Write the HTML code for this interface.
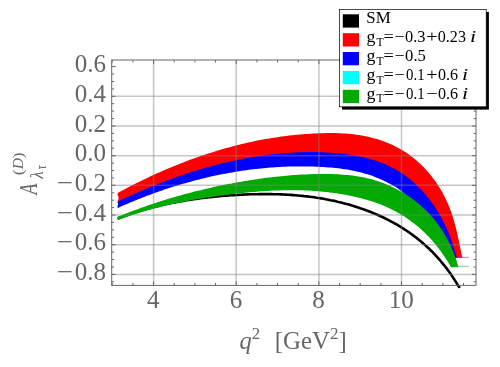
<!DOCTYPE html>
<html><head><meta charset="utf-8"><title>plot</title>
<style>html,body{margin:0;padding:0;background:#fff}svg{display:block;will-change:transform}text{font-family:"Liberation Serif",serif}</style></head><body>
<svg width="500" height="367" viewBox="0 0 500 367">
<rect width="500" height="367" fill="#fff"/>
<clipPath id="c"><rect x="111.7" y="60.0" width="364.3" height="228.39999999999998"/></clipPath>
<g clip-path="url(#c)">
<path d="M117.6,218.4 L119.9,217.8 L122.1,217.0 L124.4,216.1 L126.6,215.3 L128.9,214.5 L131.1,213.7 L133.4,213.0 L135.7,212.2 L137.9,211.5 L140.2,210.8 L142.5,210.1 L144.8,209.5 L147.1,208.8 L149.3,208.2 L151.6,207.6 L153.9,207.0 L156.2,206.4 L158.5,205.9 L160.8,205.3 L163.1,204.8 L165.4,204.3 L167.8,203.8 L170.1,203.3 L172.4,202.8 L174.7,202.4 L177.0,201.9 L179.4,201.5 L181.7,201.1 L184.0,200.7 L186.3,200.3 L188.7,199.9 L191.0,199.6 L193.4,199.2 L195.7,198.9 L198.0,198.6 L200.4,198.3 L202.7,198.0 L205.1,197.7 L207.4,197.4 L209.8,197.2 L212.2,196.9 L214.5,196.7 L216.9,196.5 L219.2,196.2 L221.6,196.0 L224.0,195.8 L226.3,195.7 L228.7,195.5 L231.1,195.3 L233.5,195.2 L235.8,195.0 L238.2,194.9 L240.6,194.7 L243.0,194.6 L245.3,194.5 L247.7,194.4 L250.1,194.3 L252.5,194.3 L254.9,194.2 L257.3,194.2 L259.6,194.1 L262.0,194.1 L264.4,194.1 L266.8,194.1 L269.2,194.1 L271.6,194.1 L273.9,194.2 L276.3,194.2 L278.7,194.3 L281.1,194.4 L283.4,194.5 L285.8,194.6 L288.2,194.8 L290.6,194.9 L292.9,195.1 L295.3,195.3 L297.7,195.5 L300.0,195.7 L302.4,195.9 L304.8,196.2 L307.1,196.4 L309.5,196.7 L311.8,197.0 L314.2,197.3 L316.5,197.7 L318.8,198.0 L321.2,198.4 L323.5,198.8 L325.8,199.3 L328.2,199.7 L330.5,200.2 L332.8,200.6 L335.1,201.1 L337.4,201.7 L339.7,202.2 L342.0,202.8 L344.3,203.4 L346.6,204.0 L348.9,204.6 L351.2,205.3 L353.5,206.0 L355.7,206.7 L358.0,207.4 L360.2,208.2 L362.5,208.9 L364.7,209.7 L366.9,210.6 L369.2,211.4 L371.4,212.3 L373.6,213.2 L375.8,214.1 L377.9,215.0 L380.1,216.0 L382.3,217.0 L384.4,218.0 L386.5,219.1 L388.6,220.2 L390.8,221.3 L392.8,222.4 L394.9,223.5 L397.0,224.7 L399.0,225.9 L401.0,227.1 L403.1,228.4 L405.0,229.7 L407.0,231.0 L409.0,232.3 L410.9,233.7 L412.8,235.1 L414.7,236.5 L416.6,237.9 L418.5,239.4 L420.3,240.9 L422.1,242.5 L423.9,244.0 L425.7,245.6 L427.4,247.2 L429.2,248.8 L430.9,250.5 L432.6,252.2 L434.2,253.9 L435.8,255.6 L437.4,257.4 L439.0,259.2 L440.6,261.0 L442.1,262.8 L443.6,264.6 L445.1,266.5 L446.6,268.4 L448.0,270.3 L449.4,272.2 L450.8,274.1 L452.1,276.1 L453.4,278.1 L454.7,280.1 L456.0,282.1 L457.2,284.1 L458.4,286.1 L459.8,288.0" fill="none" stroke="#000" stroke-width="2.6"/>
<path d="M117.6,193.0 L120.0,191.7 L122.3,190.5 L124.7,189.2 L127.0,187.9 L129.4,186.7 L131.8,185.5 L134.2,184.3 L136.6,183.1 L139.0,181.9 L141.4,180.7 L143.8,179.5 L146.2,178.4 L148.6,177.2 L151.1,176.1 L153.5,175.0 L155.9,173.8 L158.4,172.7 L160.8,171.7 L163.3,170.6 L165.7,169.5 L168.2,168.5 L170.7,167.4 L173.1,166.4 L175.6,165.4 L178.1,164.4 L180.6,163.4 L183.1,162.4 L185.6,161.5 L188.1,160.5 L190.6,159.6 L193.1,158.7 L195.7,157.8 L198.2,156.9 L200.7,156.0 L203.3,155.2 L205.8,154.3 L208.3,153.5 L210.9,152.7 L213.5,151.9 L216.0,151.1 L218.6,150.3 L221.1,149.5 L223.7,148.8 L226.3,148.1 L228.9,147.4 L231.4,146.7 L234.0,146.0 L236.6,145.3 L239.2,144.7 L241.8,144.1 L244.4,143.4 L247.0,142.8 L249.6,142.3 L252.3,141.7 L254.9,141.1 L257.5,140.6 L260.1,140.1 L262.8,139.6 L265.4,139.1 L268.0,138.7 L270.7,138.2 L273.3,137.8 L275.9,137.4 L278.6,137.0 L281.2,136.6 L283.9,136.2 L286.6,135.9 L289.2,135.6 L291.9,135.3 L294.5,135.0 L297.2,134.7 L299.9,134.5 L302.6,134.3 L305.2,134.1 L307.9,133.9 L310.6,133.7 L313.3,133.6 L316.0,133.4 L318.7,133.3 L321.4,133.2 L324.0,133.2 L326.7,133.1 L329.4,133.1 L332.1,133.1 L334.8,133.1 L337.5,133.2 L340.2,133.3 L342.9,133.4 L345.6,133.6 L348.2,133.8 L350.9,134.1 L353.6,134.3 L356.2,134.7 L358.9,135.1 L361.5,135.5 L364.1,135.9 L366.8,136.5 L369.4,137.1 L372.0,137.7 L374.5,138.4 L377.1,139.1 L379.7,139.9 L382.2,140.8 L384.7,141.7 L387.2,142.7 L389.7,143.7 L392.1,144.8 L394.6,146.0 L396.9,147.2 L399.3,148.5 L401.6,149.8 L403.9,151.2 L406.1,152.6 L408.3,154.1 L410.5,155.7 L412.6,157.3 L414.7,159.0 L416.7,160.7 L418.7,162.4 L420.6,164.2 L422.5,166.1 L424.4,168.0 L426.2,170.0 L428.0,171.9 L429.7,174.0 L431.4,176.0 L433.0,178.2 L434.6,180.3 L436.2,182.5 L437.7,184.7 L439.1,187.0 L440.5,189.2 L441.9,191.6 L443.2,193.9 L444.4,196.3 L445.6,198.7 L446.7,201.1 L447.8,203.5 L448.9,206.0 L449.9,208.5 L450.8,211.0 L451.7,213.6 L452.5,216.1 L453.3,218.7 L454.1,221.3 L454.8,223.9 L455.5,226.5 L456.2,229.1 L456.8,231.7 L457.4,234.3 L458.0,236.9 L458.5,239.5 L459.1,242.2 L459.6,244.8 L460.2,247.4 L460.7,250.0 L461.2,252.6 L461.8,255.2 L462.4,257.8 L456.2,258.1 L455.2,255.6 L454.5,253.2 L453.9,250.8 L453.1,248.5 L452.4,246.1 L451.6,243.8 L450.8,241.4 L449.9,239.1 L449.1,236.8 L448.2,234.5 L447.2,232.2 L446.3,229.9 L445.3,227.6 L444.2,225.3 L443.1,223.1 L442.0,220.9 L440.8,218.7 L439.6,216.5 L438.4,214.3 L437.1,212.1 L435.8,210.0 L434.4,207.9 L433.0,205.8 L431.6,203.7 L430.1,201.7 L428.6,199.7 L427.0,197.7 L425.4,195.8 L423.8,193.9 L422.1,192.0 L420.4,190.1 L418.7,188.3 L416.9,186.6 L415.1,184.9 L413.3,183.2 L411.4,181.5 L409.5,180.0 L407.6,178.4 L405.6,176.9 L403.6,175.5 L401.6,174.1 L399.5,172.8 L397.4,171.5 L395.3,170.3 L393.2,169.1 L391.0,168.0 L388.8,166.9 L386.6,165.9 L384.3,164.9 L382.1,164.0 L379.8,163.1 L377.5,162.3 L375.2,161.5 L372.8,160.8 L370.4,160.0 L368.1,159.4 L365.7,158.7 L363.2,158.2 L360.8,157.6 L358.4,157.1 L355.9,156.6 L353.4,156.2 L351.0,155.8 L348.5,155.4 L346.0,155.0 L343.5,154.7 L340.9,154.4 L338.4,154.2 L335.9,154.0 L333.4,153.8 L330.8,153.6 L328.3,153.4 L325.8,153.3 L323.2,153.2 L320.7,153.1 L318.2,153.0 L315.6,153.0 L313.1,153.0 L310.6,153.0 L308.0,153.0 L305.5,153.0 L303.0,153.1 L300.5,153.1 L298.0,153.2 L295.4,153.3 L292.9,153.4 L290.4,153.6 L287.9,153.8 L285.4,153.9 L282.9,154.1 L280.4,154.3 L277.9,154.6 L275.4,154.8 L272.9,155.1 L270.4,155.4 L268.0,155.7 L265.5,156.0 L263.0,156.3 L260.5,156.7 L258.1,157.0 L255.6,157.4 L253.1,157.8 L250.7,158.2 L248.2,158.7 L245.7,159.1 L243.3,159.6 L240.8,160.1 L238.4,160.6 L235.9,161.1 L233.5,161.6 L231.0,162.1 L228.6,162.7 L226.2,163.2 L223.7,163.8 L221.3,164.4 L218.9,165.0 L216.5,165.7 L214.0,166.3 L211.6,166.9 L209.2,167.6 L206.8,168.3 L204.4,169.0 L202.0,169.7 L199.6,170.4 L197.2,171.1 L194.8,171.9 L192.4,172.6 L190.0,173.4 L187.7,174.1 L185.3,174.9 L182.9,175.7 L180.5,176.5 L178.2,177.4 L175.8,178.2 L173.5,179.1 L171.1,179.9 L168.7,180.8 L166.4,181.7 L164.0,182.5 L161.7,183.4 L159.4,184.4 L157.0,185.3 L154.7,186.2 L152.4,187.1 L150.1,188.1 L147.7,189.1 L145.4,190.0 L143.1,191.0 L140.8,192.0 L138.5,193.0 L136.2,194.0 L133.9,195.0 L131.6,196.0 L129.3,197.1 L127.0,198.1 L124.8,199.2 L122.5,200.2 L120.2,201.3 L118.0,202.4Z" fill="#f00"/>
<path d="M117.6,201.6 L119.8,200.5 L122.1,199.4 L124.4,198.3 L126.7,197.3 L129.0,196.2 L131.2,195.2 L133.5,194.2 L135.8,193.2 L138.1,192.2 L140.4,191.2 L142.8,190.2 L145.1,189.2 L147.4,188.2 L149.7,187.3 L152.0,186.3 L154.4,185.4 L156.7,184.4 L159.0,183.5 L161.4,182.6 L163.7,181.7 L166.1,180.8 L168.4,179.9 L170.8,179.1 L173.1,178.2 L175.5,177.4 L177.9,176.5 L180.2,175.7 L182.6,174.9 L185.0,174.1 L187.4,173.3 L189.8,172.5 L192.2,171.7 L194.6,171.0 L196.9,170.2 L199.3,169.5 L201.8,168.8 L204.2,168.1 L206.6,167.4 L209.0,166.7 L211.4,166.1 L213.8,165.4 L216.2,164.8 L218.7,164.2 L221.1,163.5 L223.5,162.9 L226.0,162.4 L228.4,161.8 L230.8,161.2 L233.3,160.7 L235.7,160.2 L238.2,159.7 L240.6,159.2 L243.1,158.7 L245.6,158.2 L248.0,157.8 L250.5,157.4 L253.0,156.9 L255.4,156.5 L257.9,156.2 L260.4,155.8 L262.9,155.4 L265.4,155.1 L267.9,154.8 L270.3,154.5 L272.8,154.2 L275.3,153.9 L277.8,153.7 L280.3,153.4 L282.8,153.2 L285.3,153.0 L287.9,152.9 L290.4,152.7 L292.9,152.5 L295.4,152.4 L297.9,152.3 L300.4,152.2 L303.0,152.2 L305.5,152.1 L308.0,152.1 L310.6,152.1 L313.1,152.1 L315.6,152.1 L318.2,152.1 L320.7,152.2 L323.3,152.3 L325.8,152.4 L328.4,152.5 L330.9,152.7 L333.4,152.9 L336.0,153.1 L338.5,153.3 L341.0,153.5 L343.6,153.8 L346.1,154.1 L348.6,154.5 L351.1,154.9 L353.6,155.3 L356.1,155.7 L358.5,156.2 L361.0,156.7 L363.4,157.3 L365.9,157.9 L368.3,158.5 L370.7,159.2 L373.1,159.9 L375.4,160.6 L377.8,161.4 L380.1,162.3 L382.4,163.2 L384.7,164.1 L387.0,165.1 L389.2,166.1 L391.4,167.2 L393.6,168.3 L395.7,169.5 L397.9,170.7 L400.0,172.0 L402.1,173.4 L404.1,174.8 L406.1,176.2 L408.1,177.7 L410.1,179.3 L412.0,180.9 L413.9,182.5 L415.7,184.2 L417.5,185.9 L419.3,187.7 L421.1,189.5 L422.8,191.4 L424.5,193.3 L426.1,195.2 L427.7,197.2 L429.3,199.1 L430.8,201.2 L432.3,203.2 L433.8,205.3 L435.2,207.4 L436.6,209.5 L437.9,211.7 L439.2,213.8 L440.4,216.0 L441.6,218.2 L442.8,220.5 L443.9,222.7 L445.0,225.0 L446.1,227.2 L447.1,229.5 L448.1,231.8 L449.0,234.1 L449.9,236.5 L450.8,238.8 L451.6,241.1 L452.5,243.5 L453.2,245.8 L454.0,248.2 L454.7,250.6 L455.4,253.0 L456.1,255.4 L457.0,257.8 L455.0,258.6 L454.0,256.4 L453.1,254.2 L452.2,251.9 L451.2,249.7 L450.2,247.5 L449.2,245.3 L448.1,243.1 L447.0,241.0 L445.9,238.9 L444.7,236.8 L443.5,234.8 L442.2,232.7 L440.9,230.7 L439.6,228.7 L438.3,226.8 L436.9,224.9 L435.4,223.0 L434.0,221.1 L432.5,219.2 L430.9,217.4 L429.4,215.7 L427.7,213.9 L426.1,212.2 L424.4,210.5 L422.7,208.8 L421.0,207.2 L419.2,205.6 L417.4,204.0 L415.5,202.4 L413.7,200.9 L411.8,199.4 L409.9,197.9 L407.9,196.5 L406.0,194.9 L404.2,193.4 L402.4,191.9 L400.5,190.4 L398.6,188.9 L396.6,187.6 L394.5,186.4 L392.4,185.2 L390.3,184.0 L388.2,182.9 L386.0,181.8 L383.9,180.8 L381.7,179.8 L379.5,178.8 L377.3,177.9 L375.0,177.0 L372.8,176.1 L370.6,175.3 L368.3,174.6 L366.0,173.9 L363.7,173.2 L361.4,172.6 L359.1,172.0 L356.8,171.5 L354.4,171.0 L352.1,170.5 L349.7,170.0 L347.4,169.6 L345.0,169.3 L342.6,168.9 L340.2,168.6 L337.8,168.3 L335.5,168.0 L333.1,167.8 L330.7,167.6 L328.2,167.4 L325.8,167.2 L323.4,167.0 L321.0,166.9 L318.6,166.8 L316.2,166.7 L313.8,166.6 L311.4,166.5 L309.0,166.4 L306.6,166.4 L304.1,166.4 L301.7,166.4 L299.3,166.4 L296.9,166.4 L294.5,166.4 L292.1,166.5 L289.7,166.5 L287.3,166.6 L284.9,166.7 L282.5,166.8 L280.1,166.9 L277.6,167.1 L275.2,167.2 L272.8,167.4 L270.4,167.6 L268.0,167.8 L265.6,168.0 L263.2,168.2 L260.8,168.4 L258.4,168.7 L256.1,168.9 L253.7,169.2 L251.3,169.5 L248.9,169.8 L246.5,170.2 L244.1,170.5 L241.7,170.8 L239.3,171.2 L237.0,171.6 L234.6,172.0 L232.2,172.4 L229.8,172.8 L227.5,173.2 L225.1,173.7 L222.7,174.1 L220.4,174.6 L218.0,175.1 L215.7,175.6 L213.3,176.1 L210.9,176.6 L208.6,177.1 L206.2,177.7 L203.9,178.2 L201.6,178.8 L199.2,179.4 L196.9,180.0 L194.6,180.6 L192.2,181.2 L189.9,181.9 L187.6,182.5 L185.3,183.2 L182.9,183.8 L180.6,184.5 L178.3,185.2 L176.0,185.9 L173.7,186.6 L171.4,187.3 L169.1,188.1 L166.8,188.8 L164.5,189.6 L162.3,190.4 L160.0,191.1 L157.7,191.9 L155.4,192.7 L153.2,193.6 L150.9,194.4 L148.7,195.2 L146.4,196.1 L144.2,196.9 L141.9,197.8 L139.7,198.7 L137.5,199.6 L135.2,200.5 L133.0,201.4 L130.8,202.3 L128.6,203.3 L126.4,204.2 L124.2,205.1 L122.0,206.1 L119.8,207.1 L117.6,208.2Z" fill="#00f"/>
<path d="M117.6,216.6 L119.9,215.9 L122.2,215.0 L124.5,214.1 L126.8,213.2 L129.1,212.3 L131.4,211.4 L133.7,210.6 L136.0,209.7 L138.3,208.9 L140.6,208.0 L142.9,207.2 L145.2,206.4 L147.6,205.6 L149.9,204.8 L152.2,204.0 L154.5,203.3 L156.9,202.5 L159.2,201.7 L161.5,201.0 L163.9,200.3 L166.2,199.5 L168.6,198.8 L170.9,198.1 L173.3,197.4 L175.6,196.8 L178.0,196.1 L180.3,195.4 L182.7,194.8 L185.1,194.1 L187.4,193.5 L189.8,192.9 L192.2,192.2 L194.5,191.6 L196.9,191.0 L199.3,190.5 L201.7,189.9 L204.1,189.3 L206.4,188.7 L208.8,188.2 L211.2,187.7 L213.6,187.1 L216.0,186.6 L218.4,186.1 L220.8,185.6 L223.2,185.1 L225.6,184.6 L228.0,184.1 L230.4,183.7 L232.8,183.2 L235.2,182.8 L237.6,182.3 L240.1,181.9 L242.5,181.5 L244.9,181.1 L247.3,180.7 L249.7,180.3 L252.1,179.9 L254.6,179.5 L257.0,179.2 L259.4,178.8 L261.8,178.5 L264.3,178.1 L266.7,177.8 L269.1,177.5 L271.6,177.2 L274.0,176.9 L276.5,176.7 L278.9,176.4 L281.3,176.2 L283.8,175.9 L286.2,175.7 L288.7,175.5 L291.1,175.3 L293.6,175.1 L296.0,174.9 L298.5,174.8 L300.9,174.6 L303.4,174.5 L305.8,174.4 L308.3,174.3 L310.8,174.2 L313.2,174.1 L315.7,174.1 L318.1,174.0 L320.6,174.0 L323.1,174.0 L325.5,174.0 L328.0,174.0 L330.5,174.1 L332.9,174.1 L335.4,174.2 L337.9,174.3 L340.3,174.5 L342.8,174.7 L345.2,174.9 L347.7,175.1 L350.1,175.3 L352.5,175.6 L355.0,176.0 L357.4,176.3 L359.8,176.7 L362.2,177.2 L364.6,177.6 L367.0,178.2 L369.3,178.7 L371.7,179.3 L374.0,180.0 L376.4,180.7 L378.7,181.4 L381.0,182.2 L383.3,183.1 L385.6,183.9 L387.8,184.9 L390.1,185.9 L392.3,186.9 L394.5,187.9 L396.6,189.0 L398.8,190.2 L400.9,191.4 L403.0,192.6 L405.1,193.9 L407.2,195.2 L409.2,196.6 L411.2,198.0 L413.2,199.4 L415.2,200.9 L417.1,202.4 L419.0,204.0 L420.8,205.6 L422.6,207.2 L424.4,208.9 L426.2,210.6 L427.9,212.3 L429.6,214.1 L431.2,215.9 L432.8,217.7 L434.4,219.6 L435.9,221.5 L437.4,223.5 L438.8,225.4 L440.2,227.4 L441.6,229.5 L442.9,231.5 L444.2,233.6 L445.4,235.7 L446.6,237.8 L447.8,240.0 L448.9,242.2 L450.0,244.4 L451.0,246.6 L452.0,248.9 L453.0,251.1 L453.9,253.4 L454.8,255.7 L455.6,258.0 L456.4,260.3 L457.1,262.7 L457.8,265.0 L458.6,267.3 L451.4,267.3 L450.0,265.6 L448.9,263.6 L447.7,261.6 L446.5,259.6 L445.2,257.7 L443.9,255.8 L442.6,253.9 L441.3,252.0 L439.9,250.1 L438.6,248.3 L437.1,246.4 L435.7,244.6 L434.2,242.9 L432.7,241.1 L431.2,239.4 L429.6,237.7 L428.0,236.0 L426.4,234.4 L424.8,232.8 L423.1,231.2 L421.5,229.7 L419.7,228.1 L418.0,226.6 L416.2,225.2 L414.5,223.8 L412.6,222.4 L410.8,221.0 L409.0,219.7 L407.1,218.4 L405.2,217.1 L403.3,215.9 L401.3,214.7 L399.3,213.5 L397.4,212.4 L395.4,211.3 L393.3,210.2 L391.3,209.2 L389.3,208.2 L387.2,207.3 L385.1,206.3 L383.0,205.5 L380.9,204.6 L378.8,203.8 L376.6,203.0 L374.5,202.2 L372.3,201.5 L370.1,200.8 L367.9,200.2 L365.7,199.5 L363.5,198.9 L361.3,198.3 L359.1,197.7 L356.8,197.2 L354.6,196.7 L352.4,196.2 L350.1,195.7 L347.9,195.3 L345.6,194.8 L343.4,194.4 L341.1,194.0 L338.9,193.7 L336.6,193.3 L334.3,193.0 L332.1,192.7 L329.8,192.4 L327.5,192.1 L325.3,191.9 L323.0,191.7 L320.7,191.4 L318.4,191.2 L316.2,191.1 L313.9,190.9 L311.6,190.8 L309.3,190.6 L307.0,190.5 L304.7,190.4 L302.4,190.3 L300.1,190.3 L297.8,190.2 L295.5,190.2 L293.2,190.2 L290.9,190.2 L288.7,190.2 L286.4,190.2 L284.1,190.2 L281.8,190.3 L279.5,190.4 L277.2,190.4 L274.9,190.5 L272.6,190.6 L270.3,190.7 L268.0,190.9 L265.7,191.0 L263.4,191.2 L261.1,191.3 L258.8,191.5 L256.5,191.7 L254.2,191.9 L251.9,192.1 L249.6,192.3 L247.3,192.5 L245.0,192.7 L242.7,193.0 L240.4,193.2 L238.1,193.5 L235.8,193.7 L233.5,194.0 L231.3,194.3 L229.0,194.6 L226.7,194.9 L224.4,195.1 L222.1,195.5 L219.9,195.8 L217.6,196.1 L215.3,196.4 L213.1,196.7 L210.8,197.1 L208.5,197.4 L206.3,197.8 L204.0,198.1 L201.8,198.5 L199.5,198.9 L197.2,199.2 L195.0,199.6 L192.8,200.0 L190.5,200.4 L188.3,200.8 L186.0,201.3 L183.8,201.7 L181.6,202.1 L179.3,202.6 L177.1,203.1 L174.9,203.5 L172.6,204.0 L170.4,204.5 L168.2,205.0 L166.0,205.5 L163.7,206.1 L161.5,206.6 L159.3,207.2 L157.1,207.7 L154.9,208.3 L152.7,208.9 L150.5,209.5 L148.3,210.1 L146.1,210.7 L143.9,211.4 L141.7,212.0 L139.5,212.7 L137.3,213.4 L135.1,214.1 L132.9,214.8 L130.7,215.5 L128.5,216.3 L126.3,217.1 L124.1,217.8 L122.0,218.6 L119.8,219.4 L117.6,220.0Z" fill="#00aa00"/>
<path d="M117,195.6 L118.5,196.6 L118.5,199.4 L117,200.4Z M117,203 L118.1,203.6 L118.1,205 L117,205.6Z" fill="#fff"/>
<line x1="457" y1="257.4" x2="468.8" y2="257.4" stroke="#a040c0" stroke-width="0.7"/>
<line x1="455" y1="266.3" x2="468.8" y2="266.3" stroke="#30c060" stroke-width="0.7"/>
</g>
<g stroke="#808080" stroke-opacity="0.45" stroke-width="1.5">
<line x1="153.6" y1="60.0" x2="153.6" y2="285.4"/>
<line x1="236.2" y1="60.0" x2="236.2" y2="285.4"/>
<line x1="318.9" y1="60.0" x2="318.9" y2="285.4"/>
<line x1="401.5" y1="60.0" x2="401.5" y2="285.4"/>
<line x1="111.7" y1="96.3" x2="476.0" y2="96.3"/>
<line x1="111.7" y1="126.0" x2="476.0" y2="126.0"/>
<line x1="111.7" y1="155.7" x2="476.0" y2="155.7"/>
<line x1="111.7" y1="185.3" x2="476.0" y2="185.3"/>
<line x1="111.7" y1="215.0" x2="476.0" y2="215.0"/>
<line x1="111.7" y1="244.7" x2="476.0" y2="244.7"/>
<line x1="111.7" y1="274.4" x2="476.0" y2="274.4"/>
</g>
<g stroke="#666" stroke-width="1" fill="none">
<rect x="111.7" y="60.0" width="364.3" height="225.39999999999998"/>
<line x1="112.2" y1="285.4" x2="112.2" y2="283.0"/>
<line x1="112.2" y1="60.0" x2="112.2" y2="62.4"/>
<line x1="132.9" y1="285.4" x2="132.9" y2="283.0"/>
<line x1="132.9" y1="60.0" x2="132.9" y2="62.4"/>
<line x1="153.6" y1="285.4" x2="153.6" y2="281.4"/>
<line x1="153.6" y1="60.0" x2="153.6" y2="64.0"/>
<line x1="174.2" y1="285.4" x2="174.2" y2="283.0"/>
<line x1="174.2" y1="60.0" x2="174.2" y2="62.4"/>
<line x1="194.9" y1="285.4" x2="194.9" y2="283.0"/>
<line x1="194.9" y1="60.0" x2="194.9" y2="62.4"/>
<line x1="215.5" y1="285.4" x2="215.5" y2="283.0"/>
<line x1="215.5" y1="60.0" x2="215.5" y2="62.4"/>
<line x1="236.2" y1="285.4" x2="236.2" y2="281.4"/>
<line x1="236.2" y1="60.0" x2="236.2" y2="64.0"/>
<line x1="256.9" y1="285.4" x2="256.9" y2="283.0"/>
<line x1="256.9" y1="60.0" x2="256.9" y2="62.4"/>
<line x1="277.5" y1="285.4" x2="277.5" y2="283.0"/>
<line x1="277.5" y1="60.0" x2="277.5" y2="62.4"/>
<line x1="298.2" y1="285.4" x2="298.2" y2="283.0"/>
<line x1="298.2" y1="60.0" x2="298.2" y2="62.4"/>
<line x1="318.9" y1="285.4" x2="318.9" y2="281.4"/>
<line x1="318.9" y1="60.0" x2="318.9" y2="64.0"/>
<line x1="339.5" y1="285.4" x2="339.5" y2="283.0"/>
<line x1="339.5" y1="60.0" x2="339.5" y2="62.4"/>
<line x1="360.2" y1="285.4" x2="360.2" y2="283.0"/>
<line x1="360.2" y1="60.0" x2="360.2" y2="62.4"/>
<line x1="380.9" y1="285.4" x2="380.9" y2="283.0"/>
<line x1="380.9" y1="60.0" x2="380.9" y2="62.4"/>
<line x1="401.5" y1="285.4" x2="401.5" y2="281.4"/>
<line x1="401.5" y1="60.0" x2="401.5" y2="64.0"/>
<line x1="422.2" y1="285.4" x2="422.2" y2="283.0"/>
<line x1="422.2" y1="60.0" x2="422.2" y2="62.4"/>
<line x1="442.9" y1="285.4" x2="442.9" y2="283.0"/>
<line x1="442.9" y1="60.0" x2="442.9" y2="62.4"/>
<line x1="463.5" y1="285.4" x2="463.5" y2="283.0"/>
<line x1="463.5" y1="60.0" x2="463.5" y2="62.4"/>
<line x1="111.7" y1="281.8" x2="114.10000000000001" y2="281.8"/>
<line x1="476.0" y1="281.8" x2="473.6" y2="281.8"/>
<line x1="111.7" y1="274.4" x2="115.7" y2="274.4"/>
<line x1="476.0" y1="274.4" x2="472.0" y2="274.4"/>
<line x1="111.7" y1="267.0" x2="114.10000000000001" y2="267.0"/>
<line x1="476.0" y1="267.0" x2="473.6" y2="267.0"/>
<line x1="111.7" y1="259.5" x2="114.10000000000001" y2="259.5"/>
<line x1="476.0" y1="259.5" x2="473.6" y2="259.5"/>
<line x1="111.7" y1="252.1" x2="114.10000000000001" y2="252.1"/>
<line x1="476.0" y1="252.1" x2="473.6" y2="252.1"/>
<line x1="111.7" y1="244.7" x2="115.7" y2="244.7"/>
<line x1="476.0" y1="244.7" x2="472.0" y2="244.7"/>
<line x1="111.7" y1="237.3" x2="114.10000000000001" y2="237.3"/>
<line x1="476.0" y1="237.3" x2="473.6" y2="237.3"/>
<line x1="111.7" y1="229.9" x2="114.10000000000001" y2="229.9"/>
<line x1="476.0" y1="229.9" x2="473.6" y2="229.9"/>
<line x1="111.7" y1="222.4" x2="114.10000000000001" y2="222.4"/>
<line x1="476.0" y1="222.4" x2="473.6" y2="222.4"/>
<line x1="111.7" y1="215.0" x2="115.7" y2="215.0"/>
<line x1="476.0" y1="215.0" x2="472.0" y2="215.0"/>
<line x1="111.7" y1="207.6" x2="114.10000000000001" y2="207.6"/>
<line x1="476.0" y1="207.6" x2="473.6" y2="207.6"/>
<line x1="111.7" y1="200.2" x2="114.10000000000001" y2="200.2"/>
<line x1="476.0" y1="200.2" x2="473.6" y2="200.2"/>
<line x1="111.7" y1="192.8" x2="114.10000000000001" y2="192.8"/>
<line x1="476.0" y1="192.8" x2="473.6" y2="192.8"/>
<line x1="111.7" y1="185.3" x2="115.7" y2="185.3"/>
<line x1="476.0" y1="185.3" x2="472.0" y2="185.3"/>
<line x1="111.7" y1="177.9" x2="114.10000000000001" y2="177.9"/>
<line x1="476.0" y1="177.9" x2="473.6" y2="177.9"/>
<line x1="111.7" y1="170.5" x2="114.10000000000001" y2="170.5"/>
<line x1="476.0" y1="170.5" x2="473.6" y2="170.5"/>
<line x1="111.7" y1="163.1" x2="114.10000000000001" y2="163.1"/>
<line x1="476.0" y1="163.1" x2="473.6" y2="163.1"/>
<line x1="111.7" y1="155.7" x2="115.7" y2="155.7"/>
<line x1="476.0" y1="155.7" x2="472.0" y2="155.7"/>
<line x1="111.7" y1="148.2" x2="114.10000000000001" y2="148.2"/>
<line x1="476.0" y1="148.2" x2="473.6" y2="148.2"/>
<line x1="111.7" y1="140.8" x2="114.10000000000001" y2="140.8"/>
<line x1="476.0" y1="140.8" x2="473.6" y2="140.8"/>
<line x1="111.7" y1="133.4" x2="114.10000000000001" y2="133.4"/>
<line x1="476.0" y1="133.4" x2="473.6" y2="133.4"/>
<line x1="111.7" y1="126.0" x2="115.7" y2="126.0"/>
<line x1="476.0" y1="126.0" x2="472.0" y2="126.0"/>
<line x1="111.7" y1="118.6" x2="114.10000000000001" y2="118.6"/>
<line x1="476.0" y1="118.6" x2="473.6" y2="118.6"/>
<line x1="111.7" y1="111.1" x2="114.10000000000001" y2="111.1"/>
<line x1="476.0" y1="111.1" x2="473.6" y2="111.1"/>
<line x1="111.7" y1="103.7" x2="114.10000000000001" y2="103.7"/>
<line x1="476.0" y1="103.7" x2="473.6" y2="103.7"/>
<line x1="111.7" y1="96.3" x2="115.7" y2="96.3"/>
<line x1="476.0" y1="96.3" x2="472.0" y2="96.3"/>
<line x1="111.7" y1="88.9" x2="114.10000000000001" y2="88.9"/>
<line x1="476.0" y1="88.9" x2="473.6" y2="88.9"/>
<line x1="111.7" y1="81.5" x2="114.10000000000001" y2="81.5"/>
<line x1="476.0" y1="81.5" x2="473.6" y2="81.5"/>
<line x1="111.7" y1="74.0" x2="114.10000000000001" y2="74.0"/>
<line x1="476.0" y1="74.0" x2="473.6" y2="74.0"/>
<line x1="111.7" y1="66.6" x2="115.7" y2="66.6"/>
<line x1="476.0" y1="66.6" x2="472.0" y2="66.6"/>
</g>
<g fill="#666" font-size="24.8">
<text transform="translate(106.0,72.16) scale(1.01,1)" text-anchor="end">0.6</text>
<text transform="translate(106.0,101.84) scale(1.01,1)" text-anchor="end">0.4</text>
<text transform="translate(106.0,131.52) scale(1.01,1)" text-anchor="end">0.2</text>
<text transform="translate(106.0,161.20) scale(1.01,1)" text-anchor="end">0.0</text>
<text transform="translate(57.1,190.88) scale(1.15,1)">−</text>
<text transform="translate(106.0,190.88) scale(1.01,1)" text-anchor="end">0.2</text>
<text transform="translate(57.1,220.56) scale(1.15,1)">−</text>
<text transform="translate(106.0,220.56) scale(1.01,1)" text-anchor="end">0.4</text>
<text transform="translate(57.1,250.24) scale(1.15,1)">−</text>
<text transform="translate(106.0,250.24) scale(1.01,1)" text-anchor="end">0.6</text>
<text transform="translate(57.1,279.92) scale(1.15,1)">−</text>
<text transform="translate(106.0,279.92) scale(1.01,1)" text-anchor="end">0.8</text>
<text transform="translate(153.2,307.6) scale(1.01,1)" text-anchor="middle">4</text>
<text transform="translate(235.9,307.6) scale(1.01,1)" text-anchor="middle">6</text>
<text transform="translate(318.6,307.6) scale(1.01,1)" text-anchor="middle">8</text>
<text transform="translate(401.2,307.6) scale(1.01,1)" text-anchor="middle">10</text>
<text transform="translate(239.5,348.8) scale(0.96,1)" font-size="25.5"><tspan font-style="italic">q</tspan><tspan font-size="17.5" dy="-10">2</tspan></text>
<text transform="translate(274.7,348.8) scale(0.975,1)" font-size="25.5">[GeV<tspan font-size="17.5" dy="-10">2</tspan><tspan dy="10">]</tspan></text>
<g transform="translate(37.1,196) rotate(-90)">
<text transform="translate(1.58,0.00) scale(0.687,0.998)" font-size="26.1" font-style="italic">A</text>
<text transform="translate(20.73,-14.36) scale(1.145,1.002)" font-size="15.3">(</text>
<text transform="translate(26.78,-14.23) scale(1.006,1.002)" font-size="15.5" font-style="italic">D</text>
<text transform="translate(37.74,-14.36) scale(1.145,1.002)" font-size="15.3">)</text>
<text transform="translate(17.32,5.60) scale(0.940,0.999)" font-size="18.2" font-style="italic">λ</text>
<text transform="translate(26.65,8.87) scale(0.817,0.997)" font-size="13.7" font-style="italic">τ</text>
</g>
</g>
<rect x="342" y="12" width="146.9" height="97.6" fill="#000"/>
<rect x="339.4" y="9.4" width="146.8" height="97.4" fill="#fff" stroke="#000" stroke-width="0.7"/>
<rect x="342.8" y="14.3" width="16.2" height="13.3" fill="#000"/>
<rect x="342.8" y="33.2" width="16.2" height="13.3" fill="#f00"/>
<rect x="342.8" y="52.0" width="16.2" height="13.3" fill="#00f"/>
<rect x="342.8" y="70.9" width="16.2" height="13.3" fill="#0ff"/>
<rect x="342.8" y="89.8" width="16.2" height="13.3" fill="#00aa00"/>
<g fill="#000">
<text transform="translate(366.27,23.40) scale(1.018,1)" font-size="16.6">SM</text>
<text transform="translate(366.43,42.30) scale(1.086,1)" font-size="16.4">g</text>
<text transform="translate(376.59,45.70) scale(1.011,1)" font-size="11.5">T</text>
<text transform="translate(383.59,42.30) scale(1.114,1)" font-size="16.4">=</text>
<text transform="translate(394.61,42.30) scale(1.088,1)" font-size="16.4">−</text>
<text transform="translate(405.08,42.30) scale(0.998,1)" font-size="16.4">0.3</text>
<text transform="translate(426.20,42.30) scale(1.219,1)" font-size="16.4">+</text>
<text transform="translate(437.79,42.30) scale(0.981,1)" font-size="16.4">0.23</text>
<text transform="translate(469.98,42.30) scale(1.335,1)" font-size="16.4" font-style="italic">i</text>
<text transform="translate(366.43,61.20) scale(1.086,1)" font-size="16.4">g</text>
<text transform="translate(376.59,64.60) scale(1.011,1)" font-size="11.5">T</text>
<text transform="translate(383.59,61.20) scale(1.114,1)" font-size="16.4">=</text>
<text transform="translate(394.61,61.20) scale(1.088,1)" font-size="16.4">−</text>
<text transform="translate(405.07,61.20) scale(1.014,1)" font-size="16.4">0.5</text>
<text transform="translate(366.43,80.10) scale(1.086,1)" font-size="16.4">g</text>
<text transform="translate(376.59,83.50) scale(1.011,1)" font-size="11.5">T</text>
<text transform="translate(383.59,80.10) scale(1.114,1)" font-size="16.4">=</text>
<text transform="translate(394.61,80.10) scale(1.088,1)" font-size="16.4">−</text>
<text transform="translate(406.03,80.10) scale(0.905,1)" font-size="16.4">0.1</text>
<text transform="translate(426.20,80.10) scale(1.219,1)" font-size="16.4">+</text>
<text transform="translate(437.89,80.10) scale(0.980,1)" font-size="16.4">0.6</text>
<text transform="translate(461.98,80.10) scale(1.335,1)" font-size="16.4" font-style="italic">i</text>
<text transform="translate(366.43,99.00) scale(1.086,1)" font-size="16.4">g</text>
<text transform="translate(376.59,102.40) scale(1.011,1)" font-size="11.5">T</text>
<text transform="translate(383.59,99.00) scale(1.114,1)" font-size="16.4">=</text>
<text transform="translate(394.61,99.00) scale(1.088,1)" font-size="16.4">−</text>
<text transform="translate(406.03,99.00) scale(0.905,1)" font-size="16.4">0.1</text>
<text transform="translate(426.20,99.00) scale(1.219,1)" font-size="16.4">−</text>
<text transform="translate(437.89,99.00) scale(0.980,1)" font-size="16.4">0.6</text>
<text transform="translate(461.98,99.00) scale(1.335,1)" font-size="16.4" font-style="italic">i</text>
</g>
</svg></body></html>
